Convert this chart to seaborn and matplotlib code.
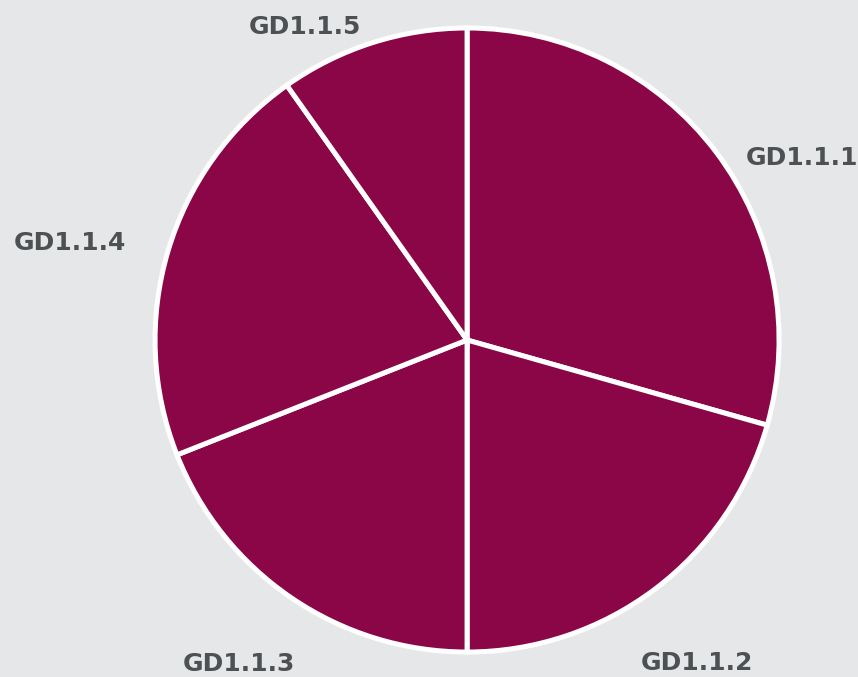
import numpy as np
import matplotlib
matplotlib.use("Agg")
import matplotlib.pyplot as plt
import seaborn as sns

# Share of each GD1.1 sub-goal
categories = ["GD1.1.1", "GD1.1.2", "GD1.1.3", "GD1.1.4", "GD1.1.5"]
shares = [29.4, 20.6, 19.0, 21.2, 9.8]

background = "#e6e7e8"
wedge_color = "#8b0646"
label_color = "#4d5153"

sns.set_theme(style="white")
plt.rcParams["font.family"] = ["DejaVu Sans"]

fig = plt.figure(figsize=(8.58, 6.77), dpi=100, facecolor=background)
ax = fig.add_axes([0, 0, 1, 1])
ax.set_facecolor(background)

colors = sns.color_palette([wedge_color] * len(shares))
wedges, _ = ax.pie(
    shares,
    colors=colors,
    startangle=90,
    counterclock=False,
    radius=1.0,
    wedgeprops=dict(edgecolor="white", linewidth=3.6),
)

# Label placement: (radius, angle offset in degrees) relative to each wedge's mid-angle
label_offsets = [(1.22, -8.6), (1.27, -1.6), (1.27, -0.9), (1.31, 2.8), (1.13, 9.8)]
for w, name, (r, d) in zip(wedges, categories, label_offsets):
    mid = np.deg2rad((w.theta1 + w.theta2) / 2 + d)
    ax.text(r * np.cos(mid), r * np.sin(mid), name,
            ha="center", va="center", fontsize=18, fontweight="bold",
            color=label_color)

ax.set_xlim(-1.497, 1.253)
ax.set_ylim(-1.080, 1.0897)
ax.set_aspect("auto")
ax.axis("off")

fig.savefig("out.png", dpi=100, facecolor=background)
